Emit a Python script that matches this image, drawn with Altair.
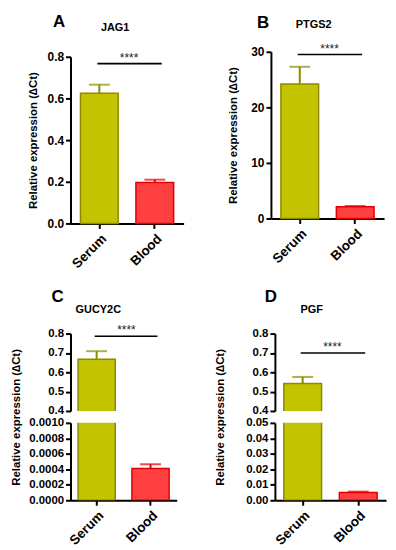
import altair as alt
import pandas as pd

groups = ["Serum", "Blood"]
fills = ["#c3c300", "#ff4040"]
strokes = ["#8c8c00", "#e00000"]

jag1_mean = [0.625, 0.197]
jag1_sem = [0.041, 0.013]
ptgs2_mean = [24.2, 2.1]
ptgs2_sem = [3.1, 0.15]
gucy2c_mean = [0.667, 0.00041]
gucy2c_sem = [0.042, 0.000055]
pgf_mean = [0.542, 0.0050]
pgf_sem = [0.034, 0.0006]

ticks_a = [0, 0.2, 0.4, 0.6, 0.8]
ticks_b = [0, 10, 20, 30]
ticks_upper = [0.4, 0.5, 0.6, 0.7, 0.8]
ticks_c_low = [0, 0.0002, 0.0004, 0.0006, 0.0008, 0.001]
ticks_d_low = [0, 0.01, 0.02, 0.03, 0.04, 0.05]

sig_label = "****"
ytitle = "Relative expression (\u2206Ct)"
FONT = "Liberation Sans"


def panel(mean, sem, width, height, ydomain, yticks, yfmt, pi, po,
          show_x=True, show_title=True, title_pad=7, title_y=None, label_size=12,
          floor=0.0, clip=False, sig_y=None, sig_dx=30,
          letter=None, letter_pos=(0, 0), gene=None, gene_pos=(0, 0)):
    lo, hi = ydomain
    df = pd.DataFrame({"group": groups, "mean": mean,
                       "upper": [m + s for m, s in zip(mean, sem)]})
    xs = alt.Scale(domain=groups, paddingInner=pi, paddingOuter=po)
    ys = alt.Scale(domain=list(ydomain), nice=False, zero=False)
    if show_x:
        xa = alt.Axis(title=None, labelAngle=-45, labelFontSize=13.5, labelPadding=3)
    else:
        xa = None
    ykw = dict(values=yticks, format=yfmt, titlePadding=title_pad, labelFontSize=label_size)
    if show_title:
        ykw["title"] = ytitle
        if title_y is not None:
            ykw["titleY"] = title_y
    else:
        ykw["title"] = None
    ya = alt.Axis(**ykw)

    def X(f="group"):
        return alt.X(f + ":N", sort=groups, scale=xs, axis=xa)

    def Y(f):
        return alt.Y(f + ":Q", scale=ys, axis=ya)

    bar_df = df[df["mean"] > lo]
    err_df = df[(df["mean"] > lo) & (df["upper"] < hi)]
    layers = [
        alt.Chart(bar_df).mark_bar(strokeWidth=1.5, clip=clip).encode(
            x=X(), y=Y("mean"), y2=alt.datum(floor),
            fill=alt.Fill("group:N", scale=alt.Scale(domain=groups, range=fills), legend=None),
            stroke=alt.Stroke("group:N", scale=alt.Scale(domain=groups, range=strokes), legend=None),
        ),
        alt.Chart(err_df).mark_rule(strokeWidth=2).encode(
            x=X(), y=Y("mean"), y2=alt.Y2("upper"),
            color=alt.Color("group:N", scale=alt.Scale(domain=groups, range=strokes), legend=None),
        ),
        alt.Chart(err_df).mark_tick(thickness=2, size=21).encode(
            x=X(), y=Y("upper"),
            color=alt.Color("group:N", scale=alt.Scale(domain=groups, range=strokes), legend=None),
        ),
    ]
    if sig_y is not None:
        sdf = pd.DataFrame({"group": [groups[0]], "group2": [groups[1]],
                            "sig": [sig_y], "label": [sig_label]})
        layers.append(alt.Chart(sdf).mark_rule(
            color="black", strokeWidth=1.6, xOffset=-2, x2Offset=7).encode(
            x=X(), x2=alt.X2("group2"), y=Y("sig")))
        layers.append(alt.Chart(sdf).mark_text(
            dx=sig_dx, dy=-2, baseline="alphabetic", align="center",
            fontSize=12, font=FONT, color="#222").encode(
            x=X(), y=Y("sig"), text="label:N"))
    if letter is not None:
        ldf = pd.DataFrame({"label": [letter]})
        layers.append(alt.Chart(ldf).mark_text(
            fontSize=17, fontWeight="bold", font=FONT, color="black",
            align="center", baseline="middle").encode(
            x=alt.value(letter_pos[0]), y=alt.value(letter_pos[1]), text="label:N"))
    if gene is not None:
        gdf = pd.DataFrame({"label": [gene]})
        layers.append(alt.Chart(gdf).mark_text(
            fontSize=11, fontWeight="bold", font=FONT, color="black",
            align="center", baseline="middle").encode(
            x=alt.value(gene_pos[0]), y=alt.value(gene_pos[1]), text="label:N"))
    return alt.layer(*layers).properties(width=width, height=height)


A = panel(jag1_mean, jag1_sem, 114, 168, (0, 0.8), ticks_a, ".1f", 0.32, 0.18,
          title_pad=9, sig_y=0.767, letter="A", letter_pos=(-11.5, -35),
          gene="JAG1", gene_pos=(45, -29))
B = panel(ptgs2_mean, ptgs2_sem, 114, 168, (0, 30), ticks_b, "d", 0.32, 0.18,
          title_pad=12, sig_y=29.5, letter="B", letter_pos=(-8, -29),
          gene="PTGS2", gene_pos=(43, -27))

C_top = panel(gucy2c_mean, gucy2c_sem, 107, 78, (0.4, 0.8), ticks_upper, ".1f", 0.31, 0.14,
              show_x=False, show_title=False, label_size=11.5, floor=0.38, clip=True,
              sig_y=0.786, letter="C", letter_pos=(-13, -37),
              gene="GUCY2C", gene_pos=(28, -24))
C_low = panel(gucy2c_mean, gucy2c_sem, 107, 78, (0, 0.001), ticks_c_low, ".4f", 0.31, 0.14,
              show_title=True, title_pad=7, title_y=-6, label_size=11.5, floor=0.0, clip=True)
D_top = panel(pgf_mean, pgf_sem, 112, 78, (0.4, 0.8), ticks_upper, ".1f", 0.32, 0.16,
              show_x=False, show_title=False, label_size=11.5, floor=0.38, clip=True,
              sig_y=0.7, letter="D", letter_pos=(-4, -37),
              gene="PGF", gene_pos=(37, -24))
D_low = panel(pgf_mean, pgf_sem, 112, 78, (0, 0.05), ticks_d_low, ".2f", 0.32, 0.16,
              show_title=True, title_pad=20, title_y=-6, label_size=11.5, floor=0.0, clip=True)

# invisible spacer that lowers panel A by 5px relative to panel B
spacer = alt.Chart(pd.DataFrame({"v": [0]})).mark_point(opacity=0).encode(
    x=alt.value(0), y=alt.value(0)).properties(width=1, height=1)
A_wrap = alt.vconcat(spacer, A, spacing=4, bounds="flush")

C = alt.vconcat(C_top, C_low, spacing=12, bounds="flush")
D = alt.vconcat(D_top, D_low, spacing=12, bounds="flush")

row1 = alt.hconcat(A_wrap, B, spacing=202, bounds="flush")
row2 = alt.hconcat(C, D, spacing=206, bounds="flush")

chart = alt.vconcat(row1, row2, spacing=284, bounds="flush").properties(
    padding={"left": 2, "top": 3, "right": 2, "bottom": 2}
).configure_view(stroke=None).configure_axis(
    domainColor="black", domainWidth=2, tickColor="black", tickWidth=2, tickSize=5,
    labelFont=FONT, labelFontWeight="bold", labelFontSize=12, labelColor="black",
    labelPadding=2, titleFont=FONT, titleFontWeight="bold", titleFontSize=11.5,
    titleColor="black", grid=False,
)

chart.save("out.html", embed_options={"renderer": "svg", "actions": False})
